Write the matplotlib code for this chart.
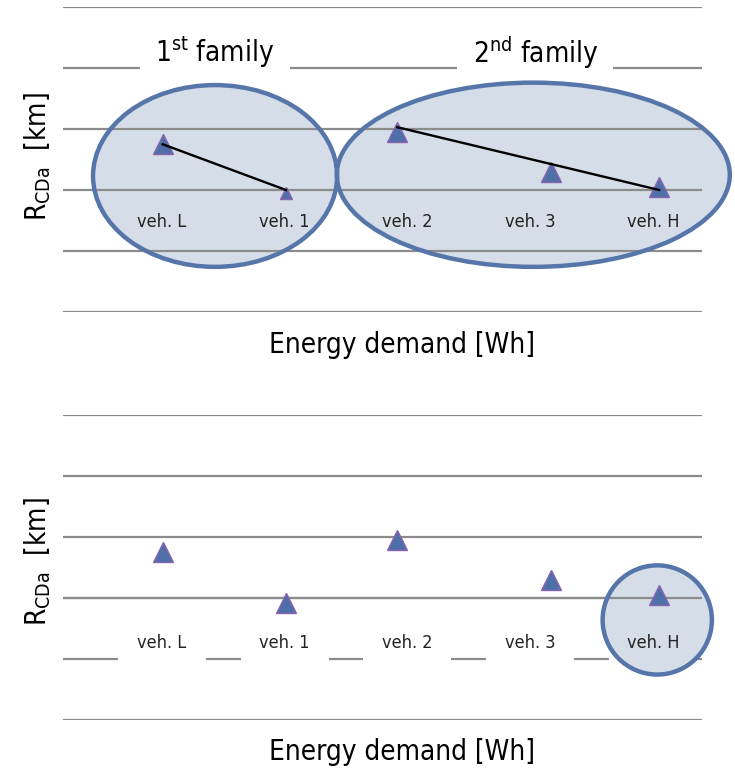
import matplotlib
matplotlib.use("Agg")
import matplotlib.pyplot as plt
from matplotlib.patches import Ellipse, Rectangle
from matplotlib import font_manager

# ---------------- data ----------------
vehicles = ["veh. L", "veh. 1", "veh. 2", "veh. 3", "veh. H"]
energy_demand = [1.56, 3.49, 5.23, 7.64, 9.33]          # marker x (energy demand)
label_pos = [1.55, 3.47, 5.38, 7.31, 9.23]              # category label positions
range_cda = [2.75, 1.92, 2.95, 2.30, 2.05]              # R_CDa (arbitrary units)
family1_idx = [0, 1]
family2_idx = [2, 4]
family1_trend = [2.75, 2.0]
family2_trend = [3.03, 2.0]
family_titles = ["1$^{\\mathrm{st}}$ family", "2$^{\\mathrm{nd}}$ family"]
family_title_x = [2.38, 7.39]

# ---------------- style ----------------
cond = [f for f in font_manager.fontManager.ttflist
        if f.name == "DejaVu Sans" and f.stretch == "condensed"]
plt.rcParams["font.family"] = ["DejaVu Sans"]
if cond:
    plt.rcParams["font.stretch"] = "condensed"
    plt.rcParams["mathtext.fontset"] = "custom"
    plt.rcParams["mathtext.rm"] = "DejaVu Sans:stretch=condensed"
    plt.rcParams["mathtext.it"] = "DejaVu Sans:stretch=condensed:style=italic"

GRID = "#8c8c8c"
EDGE = "#5676aa"
FILL = "#d5dde8"
MFACE = "#4f6fa8"
MEDGE = "#8a62b0"

W, H = 735, 769
fig = plt.figure(figsize=(W / 100, H / 100), dpi=100)

def px_axes(x0, y0, x1, y1):
    return fig.add_axes([x0 / W, 1 - y1 / H, (x1 - x0) / W, (y1 - y0) / H])

ax1 = px_axes(63, 7, 702, 312)
ax2 = px_axes(63, 415, 702, 720)

for ax in (ax1, ax2):
    ax.set_xlim(0, 10)
    ax.set_ylim(0, 5)
    ax.set_xticks([])
    ax.set_yticks([])
    for s in ax.spines.values():
        s.set_visible(False)
    ax.patch.set_alpha(0)
    for yv in range(6):
        ax.axhline(yv, color=GRID, lw=1.6, zorder=1)

# ---------- top panel ----------
for (cx, cy, w, h) in [(2.38, 2.23, 3.82, 2.98), (7.36, 2.25, 6.15, 3.02)]:
    ax1.add_patch(Ellipse((cx, cy), w, h, facecolor=FILL, edgecolor="none",
                          zorder=0.5, clip_on=False))
    ax1.add_patch(Ellipse((cx, cy), w, h, facecolor="none", edgecolor=EDGE,
                          lw=3.2, zorder=2, clip_on=False))

for t, xv, bw in zip(family_titles, family_title_x, [2.35, 2.44]):
    ax1.add_patch(Rectangle((xv - bw / 2, 3.75), bw, 0.9, facecolor="white",
                            edgecolor="none", zorder=1.5))
    ax1.text(xv, 4.25, t, ha="center", va="center", fontsize=20, color="black",
             zorder=5)

sizes = [14, 8, 14, 14, 14]
for xv, yv, s in zip(energy_demand, range_cda, sizes):
    yy = yv if s == 14 else 1.95
    ax1.plot([xv], [yy], marker="^", ms=s, mfc=MFACE, mec=MEDGE, mew=1.0,
             ls="none", zorder=3)

ax1.plot([energy_demand[i] for i in family1_idx], family1_trend,
         color="black", lw=1.7, zorder=4)
ax1.plot([energy_demand[i] for i in family2_idx], family2_trend,
         color="black", lw=1.7, zorder=4)

for lbl, xv in zip(vehicles, label_pos):
    ax1.text(xv, 1.48, lbl, ha="center", va="center", fontsize=13,
             color="#222222", zorder=5)

# ---------- bottom panel ----------
for lbl, xv in zip(vehicles, label_pos):
    ax2.add_patch(Rectangle((xv - 0.69, 0.85), 1.38, 0.8, facecolor="white",
                            edgecolor="none", zorder=1.5))
    ax2.text(xv, 1.27, lbl, ha="center", va="center", fontsize=13,
             color="#222222", zorder=5)

ax2.add_patch(Ellipse((9.30, 1.64), 1.71, 1.79, facecolor=FILL, edgecolor="none",
                      zorder=1.7, clip_on=False))
ax2.add_patch(Ellipse((9.30, 1.64), 1.71, 1.79, facecolor="none", edgecolor=EDGE,
                      lw=3.2, zorder=2, clip_on=False))
ax2.axhline(2, color=GRID, lw=1.6, zorder=1.8)

ax2.plot(energy_demand, range_cda, marker="^", ms=14, mfc=MFACE, mec=MEDGE,
         mew=1.0, ls="none", zorder=3)

# ---------- axis titles ----------
for yc, yl in [(345, 157), (752, 562)]:
    fig.text(402 / W, 1 - yc / H, "Energy demand [Wh]", ha="center", va="center",
             fontsize=20)
    fig.text(38 / W, 1 - yl / H, "R$_{\\mathrm{CDa}}$  [km]", ha="center",
             va="center", rotation=90, fontsize=20)

fig.savefig("out.png", dpi=100)
